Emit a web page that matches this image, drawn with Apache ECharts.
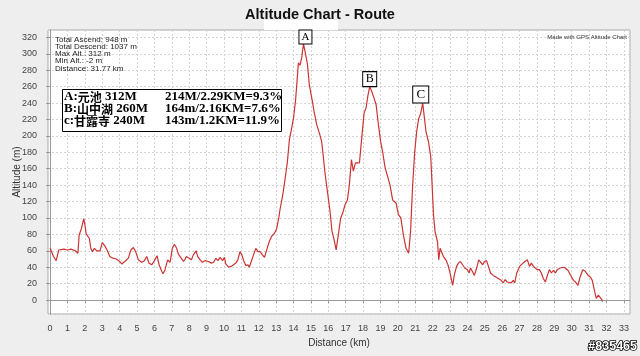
<!DOCTYPE html>
<html>
<head>
<meta charset="utf-8">
<script src="https://cdn.jsdelivr.net/npm/echarts@6/dist/echarts.min.js"></script>
<style>
html,body{margin:0;padding:0;background:#eeeeee;}
#chart{width:640px;height:356px;}
</style>
</head>
<body>
<div id="chart"></div>
<script>
// ---- data ----
const distancesKm = [
0.00,0.10,0.20,0.35,0.50,0.80,1.00,1.20,1.45,1.60,1.67,1.80,1.90,1.94,2.00,2.07,2.17,2.26,2.34,2.43,
2.55,2.68,2.87,3.00,3.15,3.30,3.43,3.62,3.81,3.95,4.12,4.30,4.50,4.65,4.79,4.92,5.08,5.27,5.42,5.56,
5.69,5.85,6.00,6.15,6.27,6.42,6.50,6.61,6.76,6.90,7.03,7.15,7.28,7.38,7.54,7.67,7.77,7.83,8.00,8.13,
8.24,8.40,8.49,8.63,8.76,8.91,9.01,9.11,9.27,9.40,9.53,9.65,9.78,9.92,10.03,10.10,10.26,10.41,10.55,10.68,
10.80,10.92,11.03,11.15,11.26,11.38,11.45,11.57,11.70,11.83,11.95,12.08,12.21,12.33,12.47,12.60,12.75,12.90,13.03,13.16,
13.22,13.38,13.51,13.65,13.76,13.90,14.00,14.12,14.28,14.37,14.47,14.57,14.68,14.80,14.91,15.05,15.18,15.33,15.49,15.62,
15.72,15.82,15.95,16.10,16.21,16.33,16.45,16.58,16.71,16.83,16.96,17.10,17.21,17.33,17.44,17.56,17.67,17.79,17.92,18.06,
18.17,18.27,18.38,18.50,18.63,18.75,18.88,19.01,19.13,19.26,19.34,19.55,19.70,19.80,19.90,20.03,20.17,20.32,20.47,20.62,
20.73,20.85,20.97,21.08,21.20,21.31,21.43,21.51,21.62,21.76,21.89,21.97,22.05,22.14,22.28,22.35,22.43,22.52,22.62,22.70,
22.76,22.88,23.00,23.15,23.27,23.38,23.48,23.60,23.72,23.85,24.00,24.10,24.18,24.28,24.40,24.53,24.65,24.76,24.88,24.98,
25.10,25.21,25.33,25.48,25.64,25.79,25.94,26.06,26.17,26.29,26.40,26.52,26.63,26.72,26.84,27.00,27.15,27.30,27.45,27.57,
27.68,27.80,27.91,28.02,28.14,28.25,28.37,28.48,28.60,28.71,28.83,28.94,29.06,29.17,29.33,29.44,29.56,29.67,29.79,29.94,
30.10,30.25,30.36,30.48,30.63,30.78,30.94,31.07,31.18,31.30,31.41,31.53,31.64,31.75,31.77
];
const altitudesM = [
63,62,53,48,61,62,61,62,60,57,79,87,96,99,92,81,79,75,63,59,
63,60,60,70,66,60,53,51,50,48,44,47,51,61,64,59,49,46,48,53,
45,43,48,54,43,35,32,37,49,46,63,68,63,56,51,47,50,53,51,49,
55,60,53,49,46,48,50,47,45,46,51,48,52,48,52,44,40,41,43,45,
49,59,55,47,42,43,40,47,55,63,59,59,55,52,62,71,78,81,87,101,
110,128,147,169,195,210,222,244,289,286,295,312,301,287,262,246,230,214,203,193,
173,153,132,108,84,74,61,80,100,106,116,122,140,171,157,167,165,167,197,228,
234,248,260,254,246,238,214,193,180,162,160,140,122,123,118,104,100,79,63,57,
83,140,181,205,221,227,240,225,205,193,175,140,104,83,71,49,63,63,53,51,
49,43,33,18,33,41,45,47,43,39,37,33,39,35,30,39,49,48,43,47,
48,41,33,30,28,26,24,21,25,22,24,21,24,21,33,41,44,47,49,41,
45,41,43,37,37,33,26,22,30,37,33,36,33,37,39,41,40,39,36,30,
24,21,18,28,37,35,30,28,24,12,2,6,5,0,-2
];
const peakLetters = ['A', 'B', 'C'];
const peakDistKm = [14.57, 18.38, 21.43];
const peakAltM = [312, 260, 240];
const summaryLines = ['Total Ascend: 948 m', 'Total Descend: 1037 m', 'Max Alt.: 312 m', 'Min Alt.: -2 m', 'Distance: 31.77 km'];
const boxKeys = ['A:', 'B:', 'c:'];
const boxNames = ['元池', '山中湖', '甘露寺'];
const boxAlts = ['312M', '260M', '240M'];
const boxStats = ['214M/2.29KM=9.3%', '164m/2.16KM=7.6%', '143m/1.2KM=11.9%'];
const titleText = 'Altitude Chart - Route';
const xName = 'Distance (km)';
const yName = 'Altitude (m)';
const creditText = 'Made with GPS Altitude Chart';
const watermarkText = '#835465';

// ---- chart ----
const chart = echarts.init(document.getElementById('chart'), null, {renderer: 'canvas'});
const seriesData = distancesKm.map((d, i) => [d, altitudesM[i]]);

const markerSizes = [[13, 14], [14, 15], [16, 17]];
const markerShift = [2, 0, -2];
const markerFont = [11, 12, 13];
const markData = peakLetters.map((l, i) => ({
  name: l,
  coord: [peakDistKm[i], peakAltM[i]],
  symbol: 'rect',
  symbolSize: markerSizes[i],
  symbolOffset: [markerShift[i], -markerSizes[i][1] / 2],
  label: {show: true, position: 'inside', formatter: l, fontFamily: '"Liberation Serif", serif', fontSize: markerFont[i], color: '#000'}
}));

const fontSans = '"Liberation Sans", Arial, sans-serif';
const latinSerif = '"Liberation Serif", serif';
const cjkFont = '"Noto Sans CJK TC", "Noto Sans CJK JP", sans-serif';
const rowY = [97, 109, 121];
const boxTexts = [];
for (let i = 0; i < 3; i++) {
  boxTexts.push({
    type: 'text', x: 64, y: rowY[i], z: 11,
    style: {
      text: '{l|' + boxKeys[i] + '}{c|' + boxNames[i] + '}{l| ' + boxAlts[i] + '}',
      verticalAlign: 'middle',
      rich: {
        l: {font: 'bold 13px ' + latinSerif, fill: '#000'},
        c: {font: 'bold 12px ' + cjkFont, fill: '#000'}
      }
    }
  });
  boxTexts.push({type: 'text', x: 165, y: rowY[i], z: 11, style: {text: boxStats[i], font: 'bold 13px ' + latinSerif, fill: '#000', verticalAlign: 'middle'}});
}

const option = {
  backgroundColor: '#eeeeee',
  animation: false,
  title: {
    text: titleText, left: 'center', top: 2,
    textStyle: {fontFamily: fontSans, fontSize: 14.5, fontWeight: 'bold', color: '#111'}
  },
  grid: {
    left: 48, right: 10, top: 30, bottom: 42,
    show: true, backgroundColor: '#ffffff', borderColor: '#a8a8a8', borderWidth: 1
  },
  xAxis: {
    type: 'value', min: -0.12, max: 33.35,
    splitNumber: 33, minInterval: 1, maxInterval: 1,
    offset: 4,
    name: xName, nameLocation: 'middle', nameGap: 20,
    nameTextStyle: {fontFamily: fontSans, fontSize: 10, color: '#333'},
    axisLine: {show: true, lineStyle: {color: '#999'}},
    axisTick: {show: true, length: 3, lineStyle: {color: '#999'}},
    axisLabel: {fontFamily: fontSans, fontSize: 9, color: '#444', margin: 6, showMinLabel: false, showMaxLabel: false},
    splitLine: {show: true, lineStyle: {color: '#d4d4d4', type: [2, 2], width: 1}}
  },
  yAxis: {
    type: 'value', min: -17, max: 329,
    splitNumber: 17, minInterval: 20, maxInterval: 20,
    offset: 4,
    name: yName, nameLocation: 'middle', nameGap: 22, nameMoveOverlap: false,
    nameTextStyle: {fontFamily: fontSans, fontSize: 10, color: '#333'},
    axisLine: {show: true, lineStyle: {color: '#999'}},
    axisTick: {show: true, length: 4, lineStyle: {color: '#999'}},
    axisLabel: {fontFamily: fontSans, fontSize: 9, color: '#444', margin: 7, showMinLabel: false, showMaxLabel: false},
    splitLine: {show: true, lineStyle: {color: '#d4d4d4', type: [2, 2], width: 1}}
  },
  series: [{
    type: 'line',
    data: seriesData,
    showSymbol: false,
    symbol: 'none',
    lineStyle: {color: '#cc3333', width: 1.2},
    markPoint: {
      data: markData,
      itemStyle: {color: '#ffffff', borderColor: '#000', borderWidth: 1},
      z: 5
    }
  }],
  graphic: [
    {type: 'rect', z: 1, silent: true, shape: {x: 264, y: 20, width: 74, height: 10}, style: {fill: '#ffffff'}},
    {type: 'text', x: 55, y: 36, z: 10, style: {text: summaryLines.join('\n'), font: '8px ' + fontSans, lineHeight: 7.2, fill: '#222'}},
    {type: 'text', x: 627, y: 34, z: 10, style: {text: creditText, font: '6px ' + fontSans, fill: '#333', align: 'right'}},
    {type: 'rect', z: 10, shape: {x: 62.5, y: 89.5, width: 219, height: 42}, style: {fill: '#ffffff', stroke: '#000', lineWidth: 1}},
    ...boxTexts,
    {type: 'text', x: 637, y: 347, z: 10, style: {text: watermarkText, font: 'bold 12.5px ' + fontSans, fill: '#ffffff', stroke: '#000', lineWidth: 1.5, align: 'right', verticalAlign: 'middle'}}
  ]
};
chart.setOption(option);
</script>
</body>
</html>
